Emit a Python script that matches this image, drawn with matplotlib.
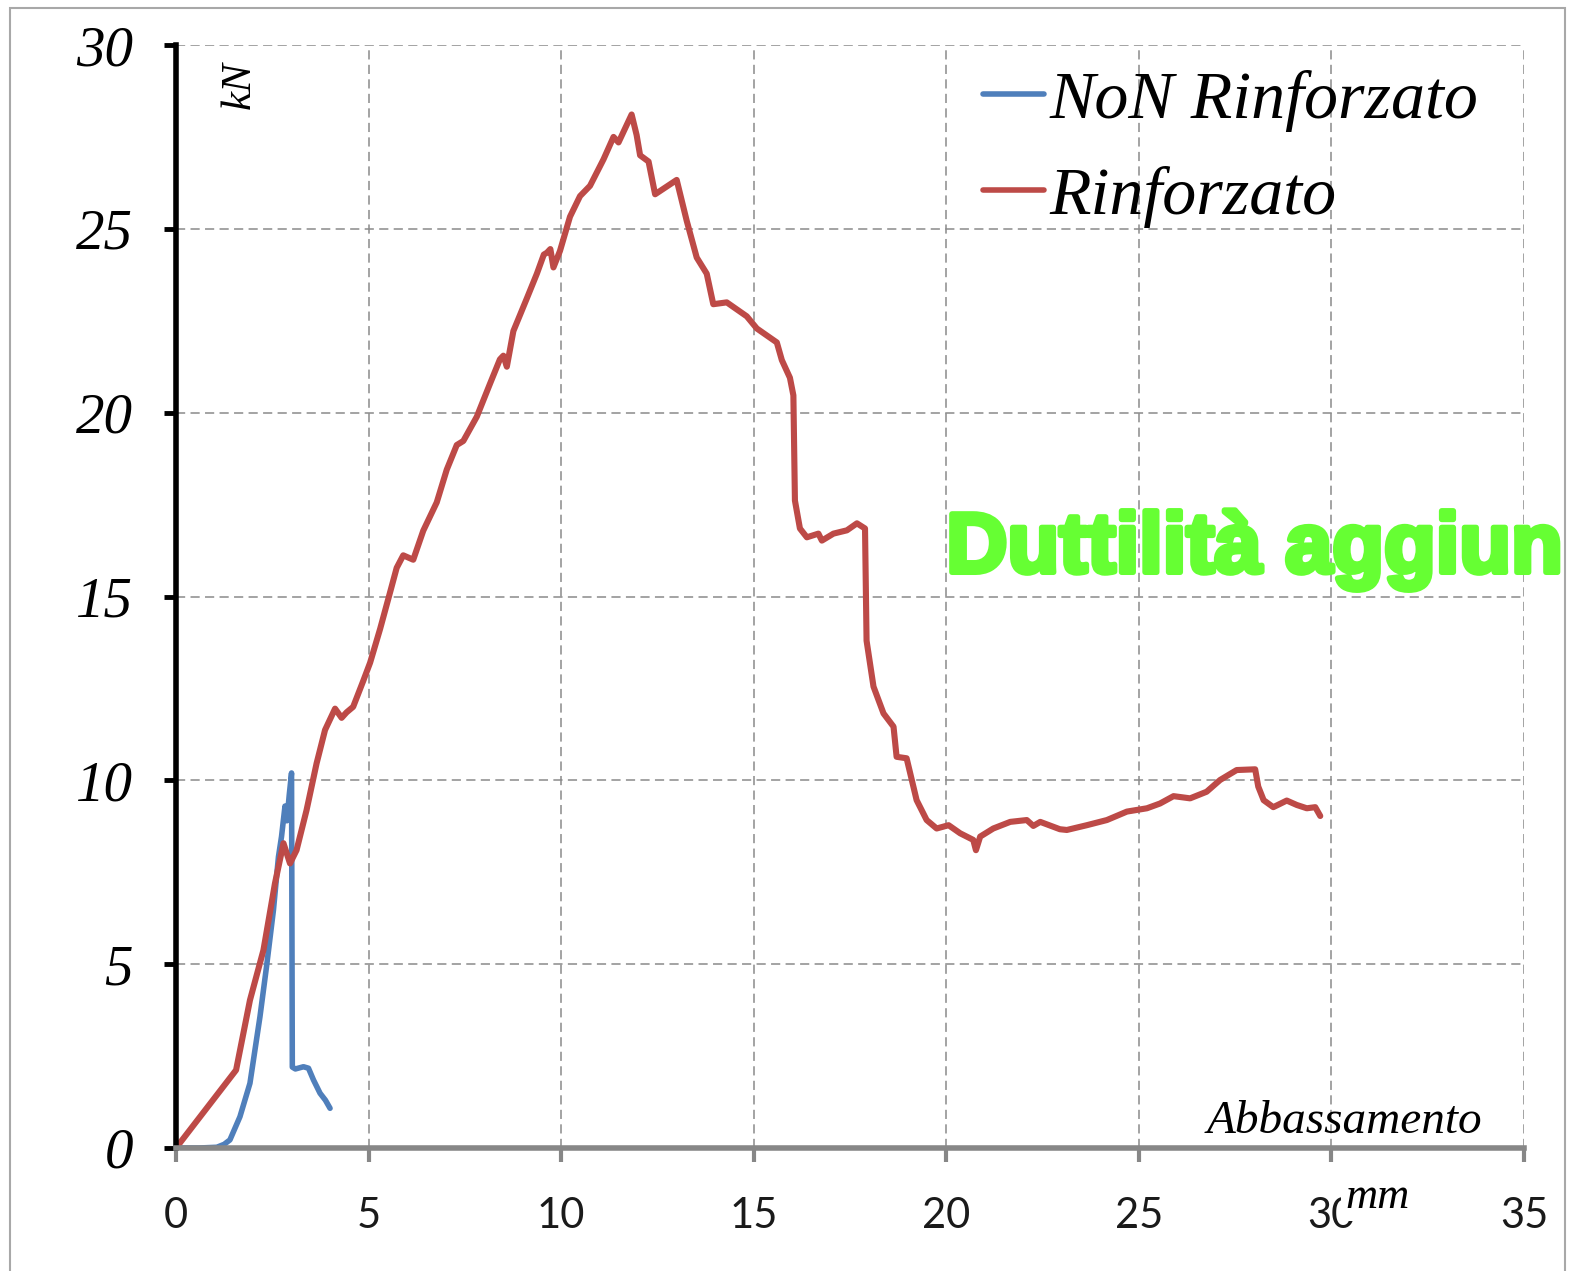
import matplotlib
matplotlib.use("Agg")
import matplotlib.pyplot as plt
from matplotlib.patches import Rectangle
import matplotlib.patheffects as pe

# Load-deflection data (mm, kN)
blue_x = [0, 0.6, 1.06, 1.25, 1.40, 1.66, 1.92, 2.18, 2.35, 2.53, 2.66, 2.74,
          2.83, 2.88, 2.94, 3.00, 3.02, 3.10, 3.31, 3.44, 3.57, 3.74, 3.88, 4.0]
blue_y = [0, 0, 0.02, 0.1, 0.22, 0.85, 1.76, 3.57, 4.93, 6.47, 7.92, 8.47,
          9.3, 8.9, 9.6, 10.2, 2.2, 2.15, 2.21, 2.17, 1.85, 1.49, 1.3, 1.08]

red_x = [0, 1.56, 1.92, 2.27, 2.57, 2.79, 2.96, 3.13, 3.39, 3.65, 3.87, 4.13,
         4.30, 4.43, 4.60, 4.86, 5.04, 5.30, 5.56, 5.73, 5.90, 6.16, 6.42, 6.77,
         7.03, 7.29, 7.46, 7.81, 8.15, 8.41, 8.50, 8.59, 8.76, 9.11, 9.37, 9.55,
         9.63, 9.72, 9.80, 9.97, 10.23, 10.49, 10.75, 11.10, 11.36, 11.49, 11.83,
         11.96, 12.05, 12.27, 12.44, 13.00, 13.26, 13.52, 13.78, 13.95, 14.30,
         14.82, 15.08, 15.60, 15.73, 15.94, 16.03, 16.07, 16.20, 16.38, 16.68,
         16.77, 17.07, 17.42, 17.68, 17.89, 17.93, 18.11, 18.37, 18.63, 18.71,
         18.97, 19.23, 19.49, 19.75, 20.06, 20.36, 20.70, 20.77, 20.88, 21.22,
         21.66, 22.09, 22.26, 22.44, 22.95, 23.13, 23.65, 24.17, 24.69, 25.21,
         25.55, 25.90, 26.33, 26.76, 27.11, 27.54, 28.02, 28.10, 28.24, 28.49,
         28.84, 29.10, 29.36, 29.58, 29.71]
red_y = [0, 2.12, 4.02, 5.38, 7.2, 8.29, 7.74, 8.1, 9.19, 10.46, 11.37, 11.95,
         11.7, 11.85, 12.0, 12.7, 13.2, 14.12, 15.12, 15.78, 16.12, 16.0, 16.79,
         17.56, 18.45, 19.12, 19.23, 19.89, 20.78, 21.45, 21.55, 21.25, 22.22,
         23.11, 23.78, 24.3, 24.35, 24.45, 23.95, 24.4, 25.33, 25.89, 26.17,
         26.89, 27.50, 27.35, 28.11, 27.55, 27.0, 26.83, 25.94, 26.33, 25.22,
         24.22, 23.78, 22.95, 23.0, 22.62, 22.29, 21.91, 21.43, 20.95, 20.47,
         17.61, 16.85, 16.61, 16.71, 16.52, 16.71, 16.80, 16.99, 16.85, 13.8,
         12.55, 11.82, 11.46, 10.64, 10.60, 9.46, 8.92, 8.69, 8.78, 8.56, 8.38,
         8.10, 8.47, 8.69, 8.87, 8.92, 8.76, 8.87, 8.67, 8.65, 8.78, 8.92, 9.15,
         9.24, 9.37, 9.57, 9.51, 9.69, 10.01, 10.28, 10.30, 9.83, 9.46, 9.27,
         9.45, 9.33, 9.24, 9.27, 9.03]

x_ticks = [0, 5, 10, 15, 20, 25, 30, 35]
y_ticks = [0, 5, 10, 15, 20, 25, 30]
series_labels = ["NoN Rinforzato", "Rinforzato"]

W, H = 1572, 1271
fig = plt.figure(figsize=(W / 100, H / 100), dpi=100)
fig.patch.set_facecolor("white")

# thin outer frame
fig.add_artist(Rectangle((10 / W, -0.02), (1565 - 10) / W, 1.02 - 8 / H,
                         transform=fig.transFigure, fill=False,
                         edgecolor="#a8a8a8", linewidth=1.5))

ax = fig.add_axes([176 / W, 1 - 1148 / H, (1524 - 176) / W, (1148 - 45) / H])
ax.set_xlim(0, 35)
ax.set_ylim(0, 30)

blue_c = "#4f7fbb"
red_c = "#bd4a47"
ax.plot(blue_x, blue_y, color=blue_c, lw=4.0, solid_joinstyle="round",
        solid_capstyle="round", label=series_labels[0], zorder=3)
ax.plot(red_x, red_y, color=red_c, lw=4.4, solid_joinstyle="round",
        solid_capstyle="round", label=series_labels[1], zorder=4)

ax.set_xticks(x_ticks)
ax.set_yticks(y_ticks)
ax.grid(True, color="#8a8a8a", linestyle=(0, (6, 3.5)), linewidth=1.1)
ax.set_axisbelow(True)

for s in ["top", "right"]:
    ax.spines[s].set_visible(False)
ax.spines["left"].set_color("black")
ax.spines["left"].set_linewidth(4)
ax.spines["bottom"].set_color("#878787")
ax.spines["bottom"].set_linewidth(4)
ax.spines["left"].set_zorder(5)
ax.spines["bottom"].set_zorder(5)

serif = "Liberation Serif"
ax.tick_params(axis="y", direction="out", length=9, width=3.5, color="black",
               pad=22, labelsize=41, labelfontfamily=serif)
for lab in ax.get_yticklabels():
    lab.set_fontstyle("italic")
ax.tick_params(axis="x", direction="out", length=10, width=3, color="#878787",
               pad=25, labelsize=30, labelcolor="#1a1a1a", labelfontfamily="Lato")

# axis captions
ax.text(1.66, 28.9, "kN", rotation=90, fontsize=31, family=serif,
        style="italic", ha="center", va="center")
ax.text(33.91, 0.41, "Abbassamento", fontsize=34, family=serif,
        style="italic", ha="right", va="baseline")
fig.text(1378 / W, 1 - 1197 / H, "mm", fontsize=32, family=serif,
         style="italic", ha="center", va="center", zorder=10,
         bbox=dict(boxstyle="square,pad=0.1", facecolor="white",
                   edgecolor="none"))

leg = ax.legend(loc="upper left", bbox_to_anchor=(983 / W, 1 - 70 / H),
                bbox_transform=fig.transFigure, frameon=False,
                prop=dict(family=serif, style="italic", size=49),
                handlelength=0.9, handletextpad=0.08, labelspacing=0.5,
                borderpad=0, borderaxespad=0)
for h in leg.get_lines():
    h.set_linewidth(4.0)

ax.text(20.0, 15.66, "Duttilità aggiun", fontsize=61, family="Liberation Sans",
        weight="bold", color="#66ff33", ha="left", va="baseline", zorder=6,
        path_effects=[pe.withStroke(linewidth=4, foreground="#66ff33")],
        clip_on=False)

fig.savefig("out.png", dpi=100)
